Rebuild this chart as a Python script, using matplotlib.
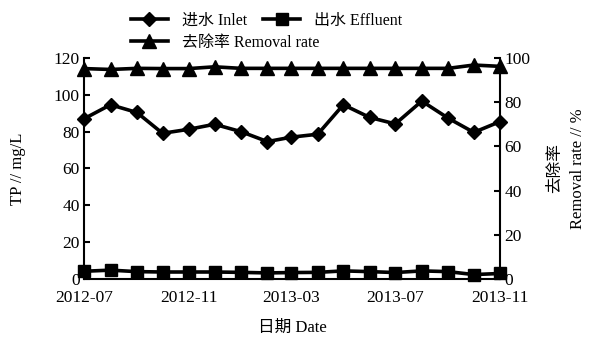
import matplotlib
matplotlib.use("Agg")
import matplotlib.pyplot as plt
import matplotlib.dates as mdates
import pandas as pd

# monthly sampling, TP in mg/L, removal rate in %
dates = pd.date_range("2012-07-01", "2013-11-01", freq="MS")
inlet = [87.0, 94.6, 90.4, 79.1, 81.3, 84.0, 80.0, 74.6, 77.0, 78.6,
         94.6, 87.7, 84.2, 96.6, 87.3, 79.6, 85.5]
effluent = [4.2, 4.8, 4.0, 3.8, 3.8, 3.8, 3.6, 3.3, 3.5, 3.6,
            4.4, 4.0, 3.5, 4.4, 4.0, 2.4, 3.0]
removal = [95.2, 94.8, 95.3, 95.2, 95.2, 96.0, 95.3, 95.3, 95.3, 95.3,
           95.3, 95.3, 95.3, 95.3, 95.3, 96.8, 96.2]

xticks = pd.to_datetime(["2012-07-01", "2012-11-01", "2013-03-01", "2013-07-01", "2013-11-01"])

SERIF = ["Liberation Serif", "Noto Sans CJK SC"]

plt.rcParams["font.family"] = SERIF
plt.rcParams["font.size"] = 12

fig = plt.figure(figsize=(5.92, 3.39), dpi=100)
ax = fig.add_axes([0.142, 0.177, 0.703, 0.652])
ax2 = ax.twinx()

line_kw = dict(color="black", linewidth=2.6, markeredgecolor="black", clip_on=False)

l_in, = ax.plot(dates, inlet, marker="D", markersize=7, label="进水 Inlet", **line_kw)
l_out, = ax.plot(dates, effluent, marker="s", markersize=8.5, label="出水 Effluent", **line_kw)
l_rem, = ax2.plot(dates, removal, marker="^", markersize=9.5, label="去除率 Removal rate", **line_kw)

ax.set_xlim(dates[0], dates[-1])
ax.set_ylim(0, 120)
ax.set_yticks(range(0, 121, 20))
ax2.set_ylim(0, 100)
ax2.set_yticks(range(0, 101, 20))
ax.set_xticks(xticks)
ax.xaxis.set_major_formatter(mdates.DateFormatter("%Y-%m"))

for a in (ax, ax2):
    a.spines["top"].set_visible(False)
    for s in a.spines.values():
        s.set_linewidth(1.5)
    a.tick_params(direction="in", length=4, width=1.5, labelsize=12.5, pad=3)
ax.tick_params(axis="x", pad=8)
ax.spines["right"].set_visible(False)
ax2.spines["left"].set_visible(False)
ax2.spines["bottom"].set_visible(False)

ax.set_ylabel("TP // mg/L", fontsize=12, labelpad=20)
ax.set_xlabel("日期 Date", fontsize=12, labelpad=10)
ax2.set_ylabel("去除率\nRemoval rate // %", fontsize=12,
               labelpad=12, linespacing=1.6)

legend_kw = dict(loc="upper left", frameon=False, prop={"size": 11.5},
                 handlelength=2.3, handletextpad=0.9)
fig.legend(handles=[l_in, l_out], bbox_to_anchor=(0.197, 1.005),
           ncol=2, columnspacing=1.0, **legend_kw)
fig.legend(handles=[l_rem], bbox_to_anchor=(0.197, 0.94), **legend_kw)

fig.savefig("out.png", dpi=100)
